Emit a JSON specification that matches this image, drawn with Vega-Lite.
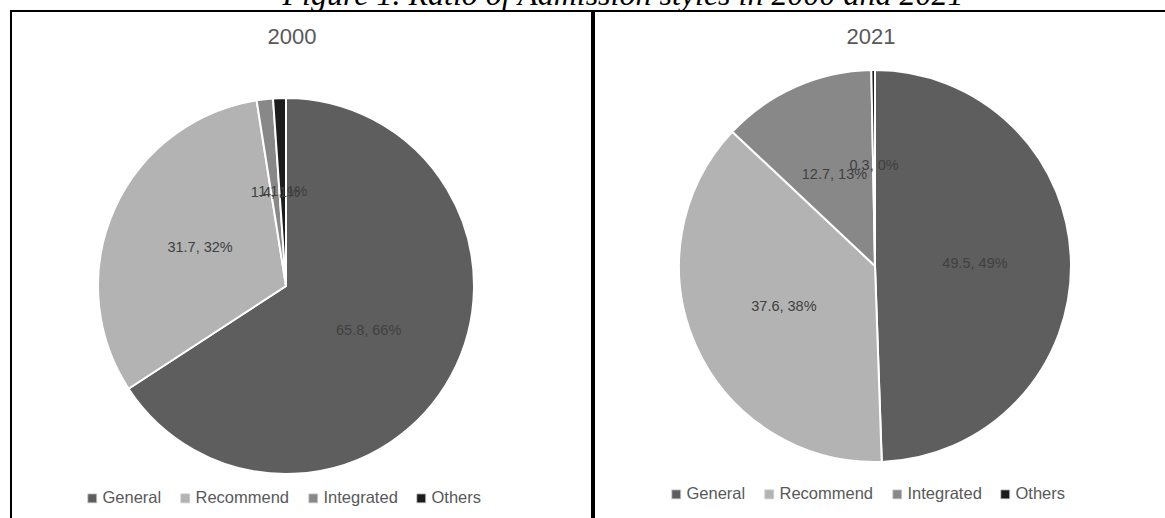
{
  "$schema": "https://vega.github.io/schema/vega-lite/v6.json",
  "autosize": {"type": "none"},
  "padding": {"left": 11, "top": 11, "right": 1154, "bottom": 507},
  "background": "white",
  "title": {"text": "Figure 1. Ratio of Admission styles in 2000 and 2021", "font": "Liberation Serif", "fontSize": 32, "fontStyle": "italic", "fontWeight": "normal", "color": "#000000", "anchor": "middle", "dx": 30, "baseline": "alphabetic", "offset": -27},
  "config": {
    "view": {"stroke": "#000000", "strokeWidth": 2},
    "font": "Liberation Sans",
    "concat": {"spacing": 0}
  },
  "resolve": {"legend": {"color": "independent"}},
  "hconcat": [
    {
      "width": 581,
      "height": 550,
      "view": {"stroke": "#000000", "strokeWidth": 2},
      "title": {"text": "2000", "font": "Liberation Sans", "fontSize": 22, "fontWeight": "normal", "fontStyle": "normal", "color": "#595959", "anchor": "middle", "baseline": "alphabetic", "offset": -55, "dx": -9.5},
      "data": {"values": [
        {"style": "General", "idx": 1, "value": 65.8, "label": "65.8, 66%"},
        {"style": "Recommend", "idx": 2, "value": 31.7, "label": "31.7, 32%"},
        {"style": "Integrated", "idx": 3, "value": 1.4, "label": "1.4, 1%"},
        {"style": "Others", "idx": 4, "value": 1.1, "label": "1.1, 1%"}
      ]},
      "layer": [
        {
          "mark": {"type": "point", "opacity": 0},
          "encoding": {
            "x": {"field": "idx", "type": "quantitative", "axis": null, "scale": {"domain": [0, 5]}},
            "y": {"field": "value", "type": "quantitative", "axis": null, "scale": {"domain": [0, 100]}}
          }
        },
        {
          "mark": {"type": "arc", "radius": 188, "stroke": "white", "strokeWidth": 2, "xOffset": -15.5},
          "encoding": {
            "theta": {"field": "value", "type": "quantitative", "stack": true},
            "order": {"field": "idx", "type": "quantitative"},
            "color": {
              "field": "style", "type": "nominal",
              "scale": {"domain": ["General", "Recommend", "Integrated", "Others"], "range": ["#5e5e5e", "#b3b3b3", "#888888", "#1c1c1c"]},
              "legend": {"orient": "none", "legendX": 73, "legendY": 479, "direction": "horizontal", "title": null, "labelFontSize": 16.5, "labelColor": "#595959", "symbolType": "square", "symbolSize": 81, "symbolStrokeWidth": 0.8, "symbolStrokeColor": "#d0d0d0", "labelOffset": 2, "columnPadding": 15}
            }
          }
        },
        {
          "mark": {"type": "text", "radius": 94, "fontSize": 14.5, "color": "#404040", "xOffset": -15.5},
          "encoding": {
            "theta": {"field": "value", "type": "quantitative", "stack": true},
            "order": {"field": "idx", "type": "quantitative"},
            "detail": {"field": "style"},
            "text": {"field": "label"}
          }
        }
      ]
    },
    {
      "width": 581,
      "height": 510,
      "view": {"stroke": "#000000", "strokeWidth": 2},
      "title": {"text": "2021", "font": "Liberation Sans", "fontSize": 22, "fontWeight": "normal", "fontStyle": "normal", "color": "#595959", "anchor": "middle", "baseline": "alphabetic", "offset": -55, "dx": -13.5},
      "data": {"values": [
        {"style": "General", "idx": 1, "value": 49.5, "label": "49.5, 49%"},
        {"style": "Recommend", "idx": 2, "value": 37.6, "label": "37.6, 38%"},
        {"style": "Integrated", "idx": 3, "value": 12.7, "label": "12.7, 13%"},
        {"style": "Others", "idx": 4, "value": 0.3, "label": "0.3, 0%"}
      ]},
      "layer": [
        {
          "mark": {"type": "point", "opacity": 0},
          "encoding": {
            "x": {"field": "idx", "type": "quantitative", "axis": null, "scale": {"domain": [0, 5]}},
            "y": {"field": "value", "type": "quantitative", "axis": null, "scale": {"domain": [0, 100]}}
          }
        },
        {
          "mark": {"type": "arc", "radius": 196, "stroke": "white", "strokeWidth": 2, "xOffset": -9.5},
          "encoding": {
            "theta": {"field": "value", "type": "quantitative", "stack": true},
            "order": {"field": "idx", "type": "quantitative"},
            "color": {
              "field": "style", "type": "nominal",
              "scale": {"domain": ["General", "Recommend", "Integrated", "Others"], "range": ["#5e5e5e", "#b3b3b3", "#888888", "#1c1c1c"]},
              "legend": {"orient": "none", "legendX": 74, "legendY": 475, "direction": "horizontal", "title": null, "labelFontSize": 16.5, "labelColor": "#595959", "symbolType": "square", "symbolSize": 81, "symbolStrokeWidth": 0.8, "symbolStrokeColor": "#d0d0d0", "labelOffset": 2, "columnPadding": 15}
            }
          }
        },
        {
          "mark": {"type": "text", "radius": 100, "fontSize": 14.5, "color": "#404040", "xOffset": -9.5},
          "encoding": {
            "theta": {"field": "value", "type": "quantitative", "stack": true},
            "order": {"field": "idx", "type": "quantitative"},
            "detail": {"field": "style"},
            "text": {"field": "label"}
          }
        }
      ]
    }
  ]
}
